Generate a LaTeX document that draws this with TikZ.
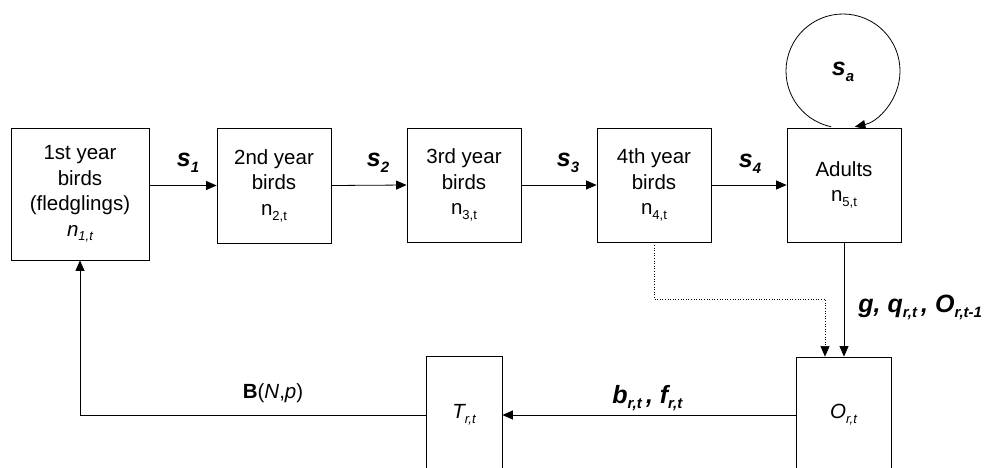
\documentclass[tikz,border=0pt]{standalone}
\usepackage{fontspec}
\setmainfont{Liberation Sans}
\usetikzlibrary{arrows.meta}
\newcommand\lsub[2][13]{\raisebox{-0.45ex}{\fontsize{#1}{#1}\selectfont #2}}
\begin{document}
\begin{tikzpicture}[x=1pt,y=1pt,line width=0.8pt,
  box/.style={draw,line width=0.8pt,inner sep=0pt,align=center,font=\fontsize{20.5}{25.5}\selectfont},
  lbl/.style={font=\fontsize{25}{25}\selectfont\bfseries\itshape,inner sep=0pt},
  arr/.style={-{Triangle[length=10.5pt,width=9pt]}}]
\useasboundingbox (0,0) rectangle (992,-467);
\clip (0,0) rectangle (992,-467);
% top row
\node[box,minimum width=138pt,minimum height=132pt] (b1) at (80,-194)
  {1st year\\birds\\(fledglings)\\\textit{n\lsub{1,t}}};
\node[box,minimum width=114pt,minimum height=115pt] (b2) at (274,-185.5)
  {2nd year\\birds\\n\lsub{2,t}};
\node[box,minimum width=114pt,minimum height=114pt] (b3) at (464,-185)
  {3rd year\\birds\\n\lsub{3,t}};
\node[box,minimum width=114pt,minimum height=114pt] (b4) at (654,-185)
  {4th year\\birds\\n\lsub{4,t}};
\node[box,minimum width=114pt,minimum height=114pt] (b5) at (844,-185)
  {Adults\\n\lsub{5,t}};
% bottom row
\node[box,minimum width=76pt,minimum height=118pt] (T) at (464,-415)
  {\itshape T\lsub{r,t}};
\node[box,minimum width=95pt,minimum height=116pt] (O) at (843.5,-415)
  {\itshape O\lsub{r,t}};
% self loop
\node[lbl] (sa) at (843,-72) {s\lsub[15]{a}};
\draw[arr] (843,-71) ++(258:57) arc[start angle=258,end angle=-78,radius=57];
% connectors
\draw[arr] (b2.west -| b1.east) -- (b2.west);
\draw[arr] (b2.east) -- (b3.west);
\draw[arr] (b3.east) -- (b4.west);
\draw[arr] (b4.east) -- (b5.west);
\draw[arr] (b5.south) -- (b5.south |- O.north);
\coordinate (dt) at (825,-299);
\draw[arr,dotted,line width=0.6pt] (b4.south) -- (b4.south |- dt) -- (dt) -- (dt |- O.north);
\draw[arr] (O.west) -- (T.east);
\draw[arr] (T.west) -| (b1.south);
% labels
\node[lbl] (s1) at (188,-163) {s\lsub[15]{1}};
\node[lbl] (s2) at (378,-163) {s\lsub[15]{2}};
\node[lbl] (s3) at (568,-163) {s\lsub[15]{3}};
\node[lbl] (s4) at (750,-164) {s\lsub[15]{4}};
\node[lbl,anchor=base west] (gl) at (858,-312) {g, q\lsub[15]{r,t}\,, O\lsub[15]{r,t-1}};
\node[lbl,anchor=base west] (bl) at (612,-403) {b\lsub[15]{r,t}\,, f\lsub[15]{r,t}};
\node[inner sep=0pt,anchor=base,font=\fontsize{20.5}{20.5}\selectfont] (bn) at (273,-398)
  {\textbf{B}(\textit{N},\textit{p})};
\end{tikzpicture}
\end{document}
